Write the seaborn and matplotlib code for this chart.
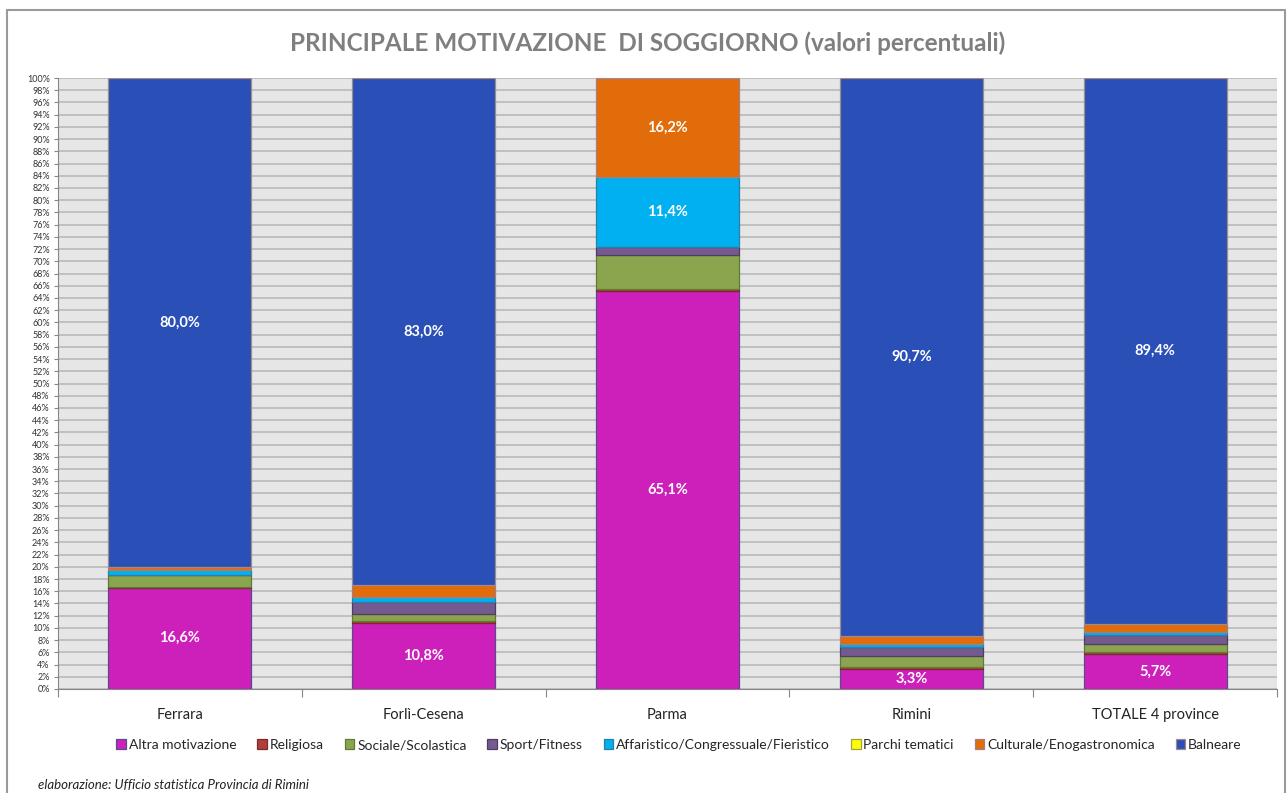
import matplotlib.pyplot as plt
import seaborn as sns
import numpy as np
from matplotlib.ticker import FixedLocator

# data (percent values)
provinces = ['Ferrara', 'Forlì-Cesena', 'Parma', 'Rimini', 'TOTALE 4 province']
altra = [16.6, 10.8, 65.1, 3.3, 5.7]
religiosa = [0.1, 0.3, 0.4, 0.3, 0.3]
sociale = [1.9, 1.2, 5.6, 1.7, 1.4]
sport = [0.1, 1.9, 1.3, 1.6, 1.5]
affaristico = [0.8, 0.8, 11.4, 0.4, 0.4]
parchi = [0.0, 0.1, 0.0, 0.0, 0.0]
culturale = [0.5, 1.9, 16.2, 1.4, 1.3]
balneare = [80.0, 83.0, 0.0, 90.7, 89.4]

series_names = ['Altra motivazione', 'Religiosa', 'Sociale/Scolastica', 'Sport/Fitness',
                'Affaristico/Congressuale/Fieristico', 'Parchi tematici',
                'Culturale/Enogastronomica', 'Balneare']
series = [altra, religiosa, sociale, sport, affaristico, parchi, culturale, balneare]
colors = ['#CD20BB', '#B0403E', '#8BA54E', '#745A8E', '#00B0F0', '#FFFF00', '#E36C0A', '#2A4FB7']
edges = ['#5a4a8a', '#7a2a2a', '#5f7a35', '#4f3d66', '#2a7fa8', '#a0a040', '#a08080', '#a08a8a']

sns.set_style("white")
plt.rcParams['font.family'] = ['Lato', 'DejaVu Sans']

fig = plt.figure(figsize=(12.87, 7.93), dpi=100)
ax = fig.add_axes([58 / 1287, 1 - 689 / 793, (1277 - 58) / 1287, (689 - 78) / 793])
ax.set_facecolor('#e6e6e6')

# 100% stacked: normalise each column like Excel does
data = np.array(series, dtype=float)
totals = data.sum(axis=0)
norm = data / totals * 100

bottom = np.zeros(len(provinces))
for i, name in enumerate(series_names):
    sns.barplot(x=provinces, y=norm[i], bottom=bottom, color=colors[i], width=0.587,
                edgecolor=edges[i], linewidth=0.9, label=name, ax=ax, saturation=1, zorder=3)
    for j in range(len(provinces)):
        val = data[i][j]
        # only the big segments carry a label in the original
        if val >= 10 or (name in ('Altra motivazione', 'Balneare') and val > 0):
            ax.text(j, bottom[j] + norm[i][j] / 2, f"{val:.1f}%".replace('.', ','),
                    ha='center', va='center', color='white', fontsize=10.5,
                    fontweight='bold', zorder=5)
    bottom = bottom + norm[i]

if ax.legend_ is not None:
    ax.legend_.remove()

ax.set_ylim(0, 100)
ax.set_xlim(-0.5, len(provinces) - 0.5)
ax.set_yticks(np.arange(0, 101, 2))
ax.set_yticklabels([f"{v}%" for v in range(0, 101, 2)], fontsize=6.5, color='#333333')
ax.yaxis.grid(True, color='#bdbdbd', linewidth=1.3, zorder=0)
ax.set_axisbelow(True)
ax.tick_params(axis='y', length=3, width=0.8, color='#868686', pad=3, left=True)
ax.xaxis.set_minor_locator(FixedLocator(np.arange(-0.5, len(provinces), 1.0)))
ax.tick_params(axis='x', which='major', length=0, labelsize=10.5, labelcolor='#222222', pad=14)
ax.tick_params(axis='x', which='minor', length=6, width=0.8, color='#868686', bottom=True)
ax.set_xlabel('')
ax.set_ylabel('')
for side in ['top', 'right']:
    ax.spines[side].set_visible(False)
ax.spines['left'].set_color('#868686')
ax.spines['bottom'].set_color('#868686')

fig.text(648 / 1287, 1 - 43 / 793, 'PRINCIPALE MOTIVAZIONE  DI SOGGIORNO (valori percentuali)',
         ha='center', va='center', fontsize=17.5, fontweight='bold', color='#7f7f7f')

handles, labels = ax.get_legend_handles_labels()
fig.legend(handles, labels, loc='center', bbox_to_anchor=(679 / 1287, 1 - 745 / 793), ncol=8,
           frameon=False, fontsize=10, handlelength=0.7, handleheight=0.7,
           handletextpad=0.2, columnspacing=1.5, borderaxespad=0)

fig.text(38 / 1287, 1 - 785 / 793, 'elaborazione: Ufficio statistica Provincia di Rimini',
         ha='left', va='center', fontsize=9.5, style='italic', color='#222222')

# outer chart frame
fig.add_artist(plt.Line2D([7 / 1287, 7 / 1287], [0, 1 - 10 / 793], color='#9a9a9a', lw=1.5))
fig.add_artist(plt.Line2D([7 / 1287, 1285 / 1287], [1 - 10 / 793, 1 - 10 / 793], color='#9a9a9a', lw=1.5))
fig.add_artist(plt.Line2D([1285 / 1287, 1285 / 1287], [0, 1 - 10 / 793], color='#9a9a9a', lw=1.5))

fig.savefig('out.png', dpi=100)
